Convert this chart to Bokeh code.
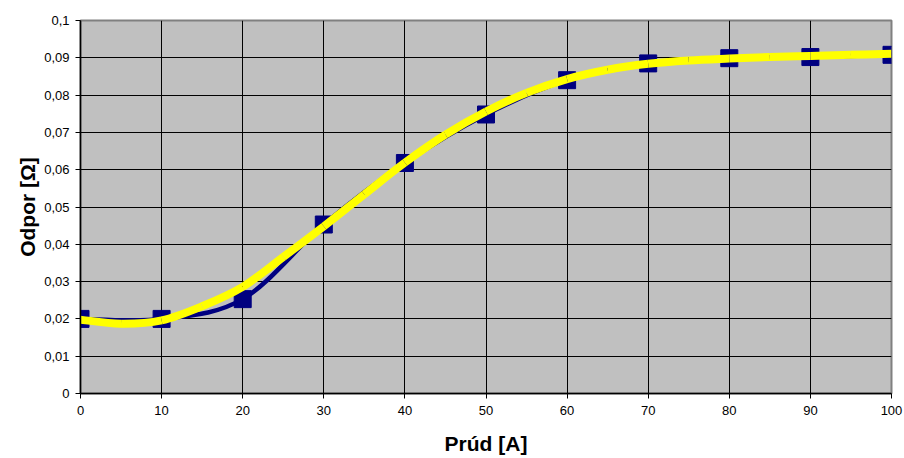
import numpy as np
from bokeh.plotting import figure
from bokeh.models import FixedTicker, CustomJSTickFormatter, Range1d
from bokeh.embed import file_html
from bokeh.resources import INLINE

# measured data (markers + smoothed line)
current = [0, 10, 20, 30, 40, 50, 60, 70, 80, 90, 100]
resistance = [0.020, 0.020, 0.0253, 0.0453, 0.0618, 0.0748, 0.0840, 0.0885, 0.0899, 0.0902, 0.0908]

# trend curve (yellow)
trend_x = [0, 5, 10, 15, 20, 25, 30, 35, 40, 45, 50, 55, 60, 65, 70, 75, 80, 85, 90, 95, 100]
trend_y = [0.0198, 0.0187, 0.0196, 0.0234, 0.0286, 0.0366, 0.0448, 0.0534, 0.0619, 0.0694,
           0.0756, 0.0806, 0.0843, 0.0868, 0.0884, 0.0893, 0.0898, 0.0902, 0.0905, 0.0908, 0.0911]

x_ticks = [0, 10, 20, 30, 40, 50, 60, 70, 80, 90, 100]
y_ticks = [0.0, 0.01, 0.02, 0.03, 0.04, 0.05, 0.06, 0.07, 0.08, 0.09, 0.1]

NAVY = "#000080"
FONT = "Liberation Sans"


def smooth_segments(xv, yv):
    xs = np.asarray(xv, dtype=float)
    ys = np.asarray(yv, dtype=float)
    n = len(xs)
    d = dict(x0=[], y0=[], x1=[], y1=[], cx0=[], cy0=[], cx1=[], cy1=[])
    for i in range(n - 1):
        ia = max(i - 1, 0)
        ib = min(i + 2, n - 1)
        d["x0"].append(xs[i]); d["y0"].append(ys[i])
        d["x1"].append(xs[i + 1]); d["y1"].append(ys[i + 1])
        d["cx0"].append(xs[i] + (xs[i + 1] - xs[ia]) / 6.0)
        d["cy0"].append(ys[i] + (ys[i + 1] - ys[ia]) / 6.0)
        d["cx1"].append(xs[i + 1] - (xs[ib] - xs[i]) / 6.0)
        d["cy1"].append(ys[i + 1] - (ys[ib] - ys[i]) / 6.0)
    return d


p = figure(width=904, height=458, output_backend="svg", toolbar_location=None,
           x_range=Range1d(0, 100), y_range=Range1d(0, 0.1),
           min_border_left=80, min_border_right=13, min_border_top=20, min_border_bottom=65)

p.border_fill_color = "white"
p.background_fill_color = "#C0C0C0"
p.outline_line_color = "#808080"
p.outline_line_width = 2

p.xgrid.ticker = FixedTicker(ticks=x_ticks)
p.ygrid.ticker = FixedTicker(ticks=y_ticks)
p.grid.grid_line_color = "black"
p.grid.grid_line_width = 1
p.grid.grid_line_alpha = 1.0

p.bezier(**smooth_segments(current, resistance), line_color=NAVY, line_width=4.5)
p.scatter(current, resistance, marker="square", size=17,
          fill_color=NAVY, line_color=NAVY)
p.bezier(**smooth_segments(trend_x, trend_y), line_color="#FFFF00", line_width=8)

p.xaxis.ticker = FixedTicker(ticks=x_ticks)
p.yaxis.ticker = FixedTicker(ticks=y_ticks)
p.yaxis.formatter = CustomJSTickFormatter(
    code="return tick.toFixed(2).replace(/0+$/,'').replace(/\\.$/,'').replace('.',',');")

for ax in (p.xaxis[0], p.yaxis[0]):
    ax.axis_line_color = "black"
    ax.axis_line_width = 1.5
    ax.major_tick_line_color = "black"
    ax.major_tick_out = 5
    ax.major_tick_in = 0
    ax.minor_tick_out = 0
    ax.minor_tick_in = 0
    ax.major_label_text_font = FONT
    ax.major_label_text_font_size = "13px"
    ax.major_label_text_color = "black"
    ax.axis_label_text_font = FONT
    ax.axis_label_text_font_size = "21px"
    ax.axis_label_text_font_style = "bold"
    ax.axis_label_text_color = "black"

p.xaxis.axis_label = "Prúd [A]"
p.yaxis.axis_label = "Odpor [Ω]"
p.xaxis.major_label_standoff = 7
p.yaxis.major_label_standoff = 6
p.xaxis.axis_label_standoff = 14
p.yaxis.axis_label_standoff = 2

open("out.html", "w").write(file_html(p, INLINE))
